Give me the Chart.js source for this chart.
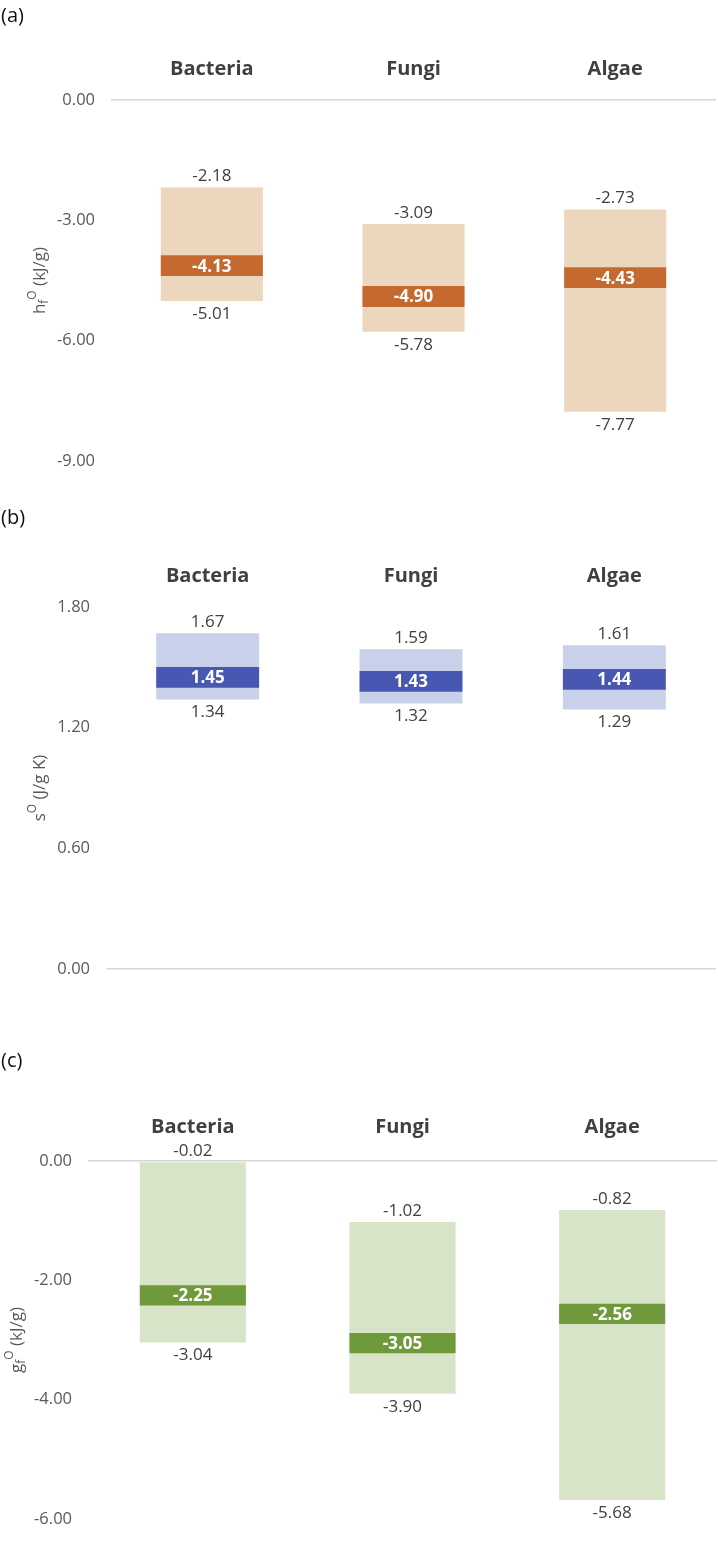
<!DOCTYPE html>
<html>
<head>
<meta charset="utf-8">
<script src="https://cdn.jsdelivr.net/npm/chart.js@4.4.1/dist/chart.umd.min.js"></script>
<style>
  html, body { margin: 0; padding: 0; background: #fff; }
  body { width: 718px; height: 1545px; position: relative; overflow: hidden; font-family: 'Open Sans', sans-serif; }
  canvas { position: absolute; left: 0; }
  .panel { position: absolute; left: 1px; font-size: 20px; line-height: 24px; color: #111; }
</style>
</head>
<body>
<canvas id="chart-h" width="718" height="490" style="top:0"></canvas>
<canvas id="chart-s" width="718" height="520" style="top:490px"></canvas>
<canvas id="chart-g" width="718" height="535" style="top:1010px"></canvas>
<div class="panel" style="top:3px">(a)</div>
<div class="panel" style="top:505px">(b)</div>
<div class="panel" style="top:1048px">(c)</div>

<script>
const categories = ['Bacteria', 'Fungi', 'Algae']

// (a) enthalpy of formation (kJ/g)
const hMin = [-5.01, -5.78, -7.77]
const hMax = [-2.18, -3.09, -2.73]
const hMean = [-4.13, -4.90, -4.43]
const hTicks = [-9, 0, 3] // min, max, step

// (b) entropy (J/g K)
const sMin = [1.34, 1.32, 1.29]
const sMax = [1.67, 1.59, 1.61]
const sMean = [1.45, 1.43, 1.44]
const sTicks = [0, 1.8, 0.6]

// (c) Gibbs energy of formation (kJ/g)
const gMin = [-3.04, -3.90, -5.68]
const gMax = [-0.02, -1.02, -0.82]
const gMean = [-2.25, -3.05, -2.56]
const gTicks = [-6, 0, 2]

Chart.defaults.font.family = '"Open Sans", sans-serif'

const fmt = v => v.toFixed(2)

// draws "h_f^O (kJ/g)" style rotated title with sub/superscripts
function drawAxisTitle(ctx, x, yc, parts) {
  ctx.save()
  ctx.translate(x, yc)
  ctx.rotate(-Math.PI / 2)
  ctx.textBaseline = 'middle'
  ctx.textAlign = 'left'
  ctx.fillStyle = '#595959'
  const fontFor = p => (p.kind ? 12 : 17) + 'px "Open Sans"'
  let total = 0
  parts.forEach(p => { ctx.font = fontFor(p); total += ctx.measureText(p.t).width })
  let cx = -total / 2
  parts.forEach(p => {
    ctx.font = fontFor(p)
    const dy = p.kind === 'sub' ? 5 : p.kind === 'sup' ? -7 : 0
    ctx.fillText(p.t, cx, dy)
    cx += ctx.measureText(p.t).width
  })
  ctx.restore()
}

function createRangeChart(id, cfg) {
  const canvas = document.getElementById(id)
  const [yMin, yMax, yStep] = cfg.ticks

  const labelPlugin = {
    id: 'rangeLabels',
    afterDatasetsDraw(chart) {
      const { ctx, chartArea, scales: { x, y } } = chart
      ctx.save()
      ctx.textAlign = 'center'
      ctx.textBaseline = 'middle'
      cfg.mean.forEach((m, i) => {
        const px = x.getPixelForValue(i)
        const top = y.getPixelForValue(cfg.max[i])
        const bottom = y.getPixelForValue(cfg.min[i])
        ctx.font = '17px "Open Sans"'
        ctx.fillStyle = '#404040'
        ctx.fillText(fmt(cfg.max[i]), px, top - 11)
        ctx.fillText(fmt(cfg.min[i]), px, bottom + 13)
        ctx.font = 'bold 17px "Open Sans"'
        ctx.fillStyle = '#ffffff'
        ctx.fillText(fmt(m), px, y.getPixelForValue(m) + 1)
      })
      ctx.restore()
      drawAxisTitle(ctx, cfg.titleX, (chartArea.top + chartArea.bottom) / 2, cfg.title)
    }
  }

  return new Chart(canvas, {
    type: 'bar',
    data: {
      labels: categories,
      datasets: [
        {
          label: 'mean',
          data: cfg.mean.map(m => [m - cfg.band, m + cfg.band]),
          backgroundColor: cfg.dark,
          order: 1
        },
        {
          label: 'range',
          data: cfg.min.map((v, i) => [v, cfg.max[i]]),
          backgroundColor: cfg.light,
          order: 2
        }
      ]
    },
    options: {
      responsive: false,
      animation: false,
      events: [],
      layout: { padding: { left: 0, right: cfg.padRight, top: 0, bottom: cfg.padBottom } },
      datasets: { bar: { grouped: false, categoryPercentage: 1, barPercentage: 0.506 } },
      plugins: { legend: { display: false }, tooltip: { enabled: false } },
      scales: {
        x: {
          position: 'top',
          grid: { display: false, drawTicks: false },
          border: { display: false },
          ticks: { padding: cfg.catPad, color: '#404040', font: { size: 20, weight: 'bold' } },
          afterFit: s => { s.height = cfg.axisHeight }
        },
        y: {
          min: yMin,
          max: yMax,
          ticks: { stepSize: yStep, padding: 16, color: '#595959', font: { size: 16.5 }, callback: v => fmt(v) },
          grid: { color: c => Math.abs(c.tick.value) < 1e-9 ? '#d6d6d6' : 'transparent', lineWidth: 1.5, drawTicks: false },
          border: { display: false },
          afterFit: s => { s.width = cfg.axisWidth }
        }
      }
    },
    plugins: [labelPlugin]
  })
}

createRangeChart('chart-h', {
  min: hMin, max: hMax, mean: hMean, ticks: hTicks, band: 0.26,
  light: '#EDD6BE', dark: '#C46A30',
  axisHeight: 100, axisWidth: 111, padBottom: 29, padRight: 2, catPad: 19, titleX: 40,
  title: [{ t: 'h' }, { t: 'f', kind: 'sub' }, { t: 'O', kind: 'sup' }, { t: ' (kJ/g)' }]
})

createRangeChart('chart-s', {
  min: sMin, max: sMax, mean: sMean, ticks: sTicks, band: 0.052,
  light: '#C9D0EA', dark: '#4857B1',
  axisHeight: 117, axisWidth: 106, padBottom: 41, padRight: 2, catPad: 19, titleX: 40,
  title: [{ t: 's' }, { t: 'O', kind: 'sup' }, { t: ' (J/g K)' }]
})

createRangeChart('chart-g', {
  min: gMin, max: gMax, mean: gMean, ticks: gTicks, band: 0.17,
  light: '#D8E4C7', dark: '#70993B',
  axisHeight: 151, axisWidth: 88, padBottom: 8, padRight: 1, catPad: 22, titleX: 17,
  title: [{ t: 'g' }, { t: 'f', kind: 'sub' }, { t: 'O', kind: 'sup' }, { t: ' (kJ/g)' }]
})
</script>
</body>
</html>
